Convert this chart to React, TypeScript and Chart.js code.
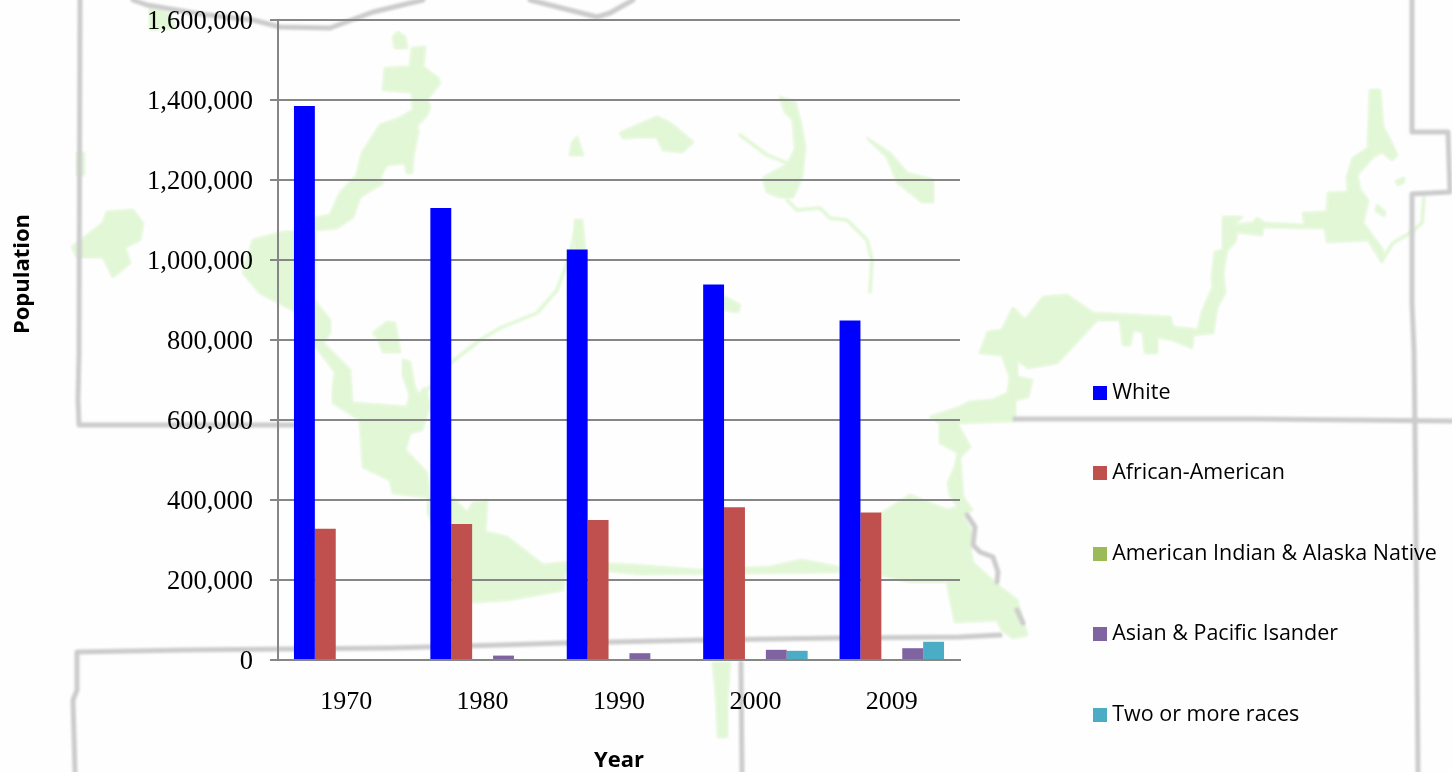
import React, { useEffect, useRef } from "react";
import { Chart, registerables } from "chart.js";

Chart.register(...registerables);

const years = ["1970", "1980", "1990", "2000", "2009"];
const white = [1385000, 1130000, 1026000, 939000, 849000];
const africanAmerican = [328000, 340000, 350000, 382000, 369000];
const americanIndian = [0, 0, 0, 0, 0];
const asianPacific = [0, 11000, 17000, 25500, 29500];
const twoOrMore = [0, 0, 0, 23000, 45500];

const seriesNames = ["White", "African-American", "American Indian & Alaska Native", "Asian & Pacific Isander", "Two or more races"];
const seriesColors = ["#0000ff", "#c0504d", "#9bbb59", "#8064a2", "#4bacc6"];

type Pt = number[];
// Decorative backdrop map (not data)
const mapGreen: Pt[] = [
  [393,37,398,32,405,37,407,48,395,48],
  [412,48,425,47,423,67,438,78,440,83,427,100,430,107,427,115,417,125,418,132,413,157,412,173,407,173,405,163,387,165,380,177,383,183,360,197,353,217,337,228,315,230,315,218,330,215,340,193,357,175,362,153,380,125,400,118,413,110,412,92,383,90,385,68,410,67],
  [253,240,283,232,315,232,315,262,314,300,330,320,330,333,323,343,350,370,352,403,407,407,410,395,403,375,403,360,410,362,414,385,418,395,425,388,430,405,422,430,410,433,405,450,427,473,430,497,453,498,467,513,473,503,487,500,485,532,507,537,543,565,568,562,632,565,699,570,770,567,801,560,838,567,838,572,743,573,640,574,600,570,565,572,563,590,507,600,473,602,455,570,428,513,428,497,393,493,390,480,363,467,360,420,333,403,333,390,335,372,313,343,313,325,293,310,260,293,243,273],
  [882,513,910,495,947,510,958,507,950,495,948,483,955,467,958,453,940,443,940,423,930,417,960,407,970,402,993,400,1008,393,1010,377,1002,355,980,353,988,332,1002,330,1013,308,1025,320,1043,297,1067,295,1093,313,1170,317,1173,327,1198,330,1202,312,1213,287,1212,277,1215,252,1223,250,1223,217,1242,217,1233,225,1253,223,1257,218,1265,223,1305,225,1303,213,1327,212,1328,193,1348,192,1347,177,1353,158,1368,148,1370,90,1380,90,1383,127,1390,140,1397,155,1392,160,1382,152,1373,157,1357,175,1360,190,1368,200,1363,223,1383,250,1382,262,1368,240,1327,242,1325,228,1263,227,1262,235,1237,232,1235,242,1227,250,1223,273,1225,293,1217,307,1213,333,1193,335,1192,348,1173,340,1157,337,1157,353,1145,353,1143,332,1133,330,1130,345,1123,345,1120,320,1097,320,1057,363,1028,368,1017,360,1017,377,1032,380,1028,397,1015,400,1015,421,957,423,970,447,960,457,963,497,972,510,963,515,972,533,970,547,973,563,1000,587,1017,600,1027,635,1013,638,1002,630,997,620,955,622,947,582,910,582,882,575],
  [620,133,657,117,670,123,693,142,682,152,663,150,657,137,640,137,623,138],
  [577,137,583,155,570,155,572,143],
  [575,220,582,220,585,250,575,255],
  [780,97,795,102,800,120,805,147,802,177,793,197,780,197,767,192,763,178,787,165,795,150,793,120,785,112],
  [867,138,890,153,907,173,933,180,933,202,922,202,897,182,887,157],
  [725,297,740,305,738,312,725,310],
  [72,247,103,223,107,212,133,210,143,223,140,240,125,247,130,263,113,277,103,257,77,257],
  [77,153,84,153,84,175,77,175],
  [150,8,170,14,175,28,150,30],
  [713,663,730,663,727,700,727,737,718,737,716,693],
  [373,333,387,322,395,323,400,352,383,352,378,338],
  [1377,205,1385,212,1384,216,1376,211],
  [1396,181,1404,178,1404,182,1398,185],
];
const mapRivers: Pt[] = [
  [420,397,432,385,448,365,480,340,500,328,537,313,557,290,570,255,577,225],
  [740,135,767,155,787,163],
  [787,200,797,210,820,208,830,218,847,220,867,240,872,260,870,292],
  [1382,260,1393,243,1410,233,1422,223,1424,197],
];
const mapBorders: Pt[] = [
  [80,0,79,353,78,400,79,425,293,425],
  [1015,419,1255,419,1452,421],
  [133,0,147,5,200,14,253,20,280,27,330,28,373,12,423,0],
  [530,0,597,17,610,13,633,0],
  [1412,0,1412,132,1448,132,1450,192,1412,194,1412,303,1414,350,1415,430,1417,653,1418,772],
  [75,772,73,700,77,690,77,652,187,650,390,648,500,645,564,643,703,640,838,638,960,637,1000,635],
  [741,663,742,772],
  [967,515,975,527,973,545,980,552,993,557,998,572,997,582],
  [1017,610,1023,623],
];

function trace(ctx: CanvasRenderingContext2D, p: number[]) {
  ctx.beginPath();
  ctx.moveTo(p[0], p[1]);
  for (let i = 2; i < p.length; i += 2) ctx.lineTo(p[i], p[i + 1]);
}

const backdrop = {
  id: "backdrop",
  beforeDraw(chart: any) {
    const ctx = chart.ctx as CanvasRenderingContext2D;
    ctx.save();
    ctx.fillStyle = "#fefefe";
    ctx.fillRect(0, 0, chart.width, chart.height);
    ctx.filter = "blur(1px)";
    ctx.lineJoin = "round";
    ctx.lineCap = "round";
    ctx.fillStyle = "#e1f7d5";
    ctx.strokeStyle = "#e1f7d5";
    ctx.lineWidth = 2;
    for (const p of mapGreen) { trace(ctx, p); ctx.closePath(); ctx.fill(); ctx.stroke(); }
    ctx.lineWidth = 3.5;
    for (const p of mapRivers) { trace(ctx, p); ctx.stroke(); }
    ctx.strokeStyle = "#cccccc";
    ctx.lineWidth = 5;
    for (const p of mapBorders) { trace(ctx, p); ctx.stroke(); }
    ctx.restore();
  },
};

const placeBlocks = {
  id: "placeBlocks",
  afterLayout(chart: any) {
    const lg = chart.legend;
    if (lg) {
      const pad = lg.options.labels.padding;
      lg.left = 1098.5 - pad;
      lg.right = 1452;
      lg.top = 392.5 - 10.75 - pad;
      lg.bottom = 1000;
    }
    const t = chart.titleBlock;
    if (t) { t.left = 10; t.right = 36; t.top = 174; t.bottom = 374; }
  },
};

function swatch(color: string) {
  const c = document.createElement("canvas");
  c.width = 14;
  c.height = 14;
  const g = c.getContext("2d")!;
  g.fillStyle = color;
  g.fillRect(0, 0, 14, 14);
  return c;
}

const sans = "'Open Sans', sans-serif";
const serif = "'Liberation Serif', serif";

export default function App() {
  const ref = useRef<HTMLCanvasElement>(null);
  useEffect(() => {
    const values = [white, africanAmerican, americanIndian, asianPacific, twoOrMore];
    const chart = new Chart(ref.current!, {
      type: "bar",
      data: {
        labels: years,
        datasets: values.map((d, i) => ({
          label: seriesNames[i],
          data: d,
          backgroundColor: seriesColors[i],
          borderWidth: 0,
          categoryPercentage: 0.766,
          barPercentage: 1,
        })),
      },
      plugins: [backdrop, placeBlocks],
      options: {
        animation: false,
        responsive: false,
        layout: { padding: { top: 20, right: 492, bottom: 0, left: 0 } },
        plugins: {
          tooltip: { enabled: false },
          title: {
            display: true,
            text: "Population",
            position: "left",
            color: "#000",
            padding: 0,
            font: { family: sans, size: 22, weight: "bold", lineHeight: 1.2 },
          },
          legend: {
            position: "chartArea",
            align: "start",
            labels: {
              color: "#000",
              padding: 59,
              boxWidth: 14,
              boxHeight: 14,
              usePointStyle: true,
              pointStyleWidth: 3,
              font: { family: sans, size: 21.5 },
              generateLabels(c: any) {
                return Chart.defaults.plugins.legend.labels
                  .generateLabels(c)
                  .map((it: any) => ({ ...it, pointStyle: swatch(it.fillStyle) }));
              },
            },
          },
        },
        scales: {
          x: {
            grid: { display: false },
            border: { display: true, color: "#868686", width: 2 },
            afterFit(s: any) { s.height = 112; s.paddingLeft = 0; s.paddingRight = 0; },
            ticks: { color: "#000", padding: 19, font: { family: serif, size: 26 }, maxRotation: 0 },
            title: {
              display: true,
              text: "Year",
              color: "#000",
              padding: { top: 0, bottom: -2 },
              font: { family: sans, size: 22, weight: "bold", lineHeight: 1.2 },
            },
          },
          y: {
            min: 0,
            max: 1600000,
            afterFit(s: any) { s.width = 251.6; s.paddingTop = 0; s.paddingBottom = 0; },
            border: { display: true, color: "#868686", width: 2 },
            grid: { color: "#868686", lineWidth: 2, tickLength: 8, drawTicks: true },
            ticks: {
              stepSize: 200000,
              color: "#000",
              padding: 17,
              labelOffset: 2,
              font: { family: serif, size: 26.5 },
              callback: (v: any) => Number(v).toLocaleString("en-US"),
            },
          },
        },
      },
    } as any);
    return () => chart.destroy();
  }, []);
  return (
    <div style={{ position: "absolute", left: 0, top: 0, width: 1452, height: 772, overflow: "hidden" }}>
      <canvas ref={ref} width={1452} height={772} style={{ display: "block" }} />
    </div>
  );
}
